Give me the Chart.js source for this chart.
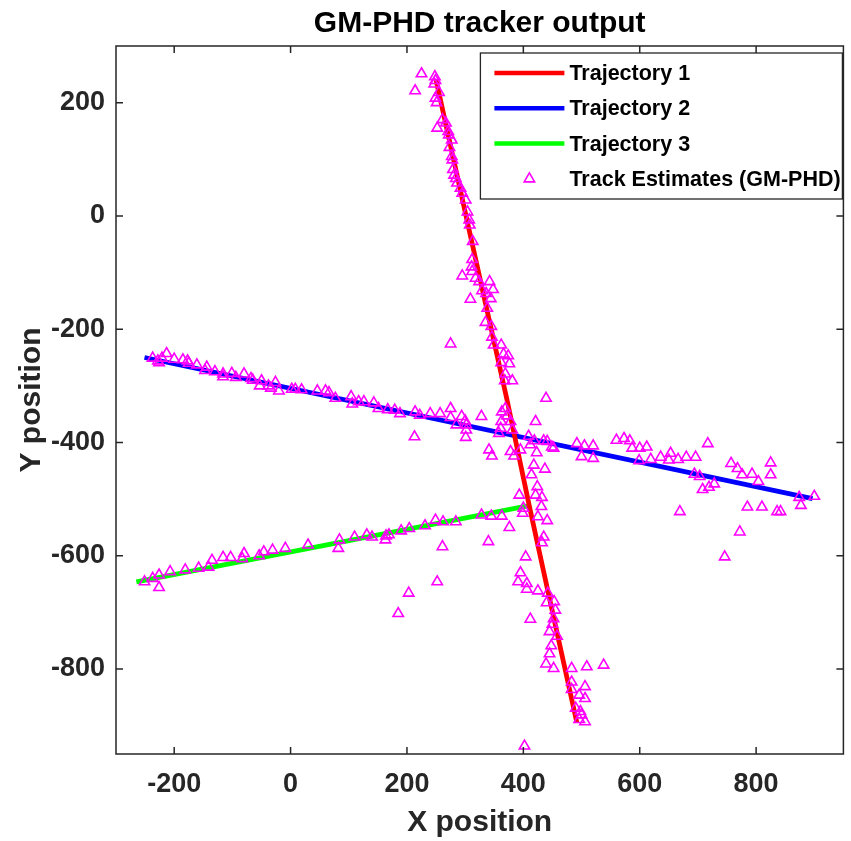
<!DOCTYPE html>
<html>
<head>
<meta charset="utf-8">
<script src="https://cdn.jsdelivr.net/npm/chart.js@4.4.1/dist/chart.umd.min.js"></script>
<style>
  body { margin: 0; background: #fff; }
</style>
</head>
<body>
<canvas id="phdChart" width="851" height="841"></canvas>
<script>
// axis ticks
const xTicks = [-200, 0, 200, 400, 600, 800];
const yTicks = [-800, -600, -400, -200, 0, 200];

// true trajectories
const traj1X = [250, 308, 372, 410, 443, 492];
const traj1Y = [240, -30, -325, -511, -666, -895];
const traj2X = [-251, 897];
const traj2Y = [-250, -499];
const traj3X = [-265, 412];
const traj3Y = [-646, -511];

// GM-PHD track estimates
const estX = [
  // trajectory 1, upper part
  225, 214, 248, 249, 247, 255, 249, 251, 252, 261, 267, 271, 272, 277, 273, 277, 278, 279, 281, 284,
  286, 292, 295, 301, 304, 307, 308, 313,
  312, 311, 312, 295, 318, 324, 342, 329, 348, 336, 344, 309, 338, 335, 345, 346, 349, 275, 362, 366,
  374, 362, 376, 369, 368, 381, 439, 369,
  // crossing area
  363, 372, 362, 378, 421, 361, 358, 381, 409, 419, 435, 412, 441, 449, 452, 341, 346, 378, 384, 395,
  423, 418, 437, 414, 424, 421, 432, 393, 431, 400, 399, 425, 441, 376, 340, 435, 432, 404,
  328, 345, 363, 284,
  // trajectory 1, lower part
  395, 391, 406, 406, 425, 442, 440, 453, 455, 412, 452, 450, 445, 458, 448, 445, 439, 452, 483, 509,
  538, 483, 506, 483, 496, 506, 490, 498, 500, 496, 506, 402,
  261, 252, 203, 185,
  // trajectory 2
  -237, -228, -221, -213, -226, -200, -185, -177, -175, -161, -144, -147, -130, -116, -116, -101, -94, -80, -68, -65,
  -50, -53, -38, -34, -26, -20, 2, 8, 19, 46, 60, 66, 77, 104, 106, 117, 126, 143, 151, 167,
  179, 188, 214, 222, 240, 257, 275, 275, 294, 300, 285, 302, 302, 301, 213, 328,
  492, 505, 520, 500, 520, 560, 573, 583, 587, 600, 612, 599, 619, 636, 653, 650, 666, 680, 696, 717,
  694, 703, 708, 719, 728, 669, 757, 768, 776, 793, 804, 825, 825, 785, 810, 836, 842, 772, 874, 877,
  900, 746,
  // trajectory 3
  -251, -237, -226, -226, -207, -181, -158, -141, -135, -116, -103, -83, -80, -54, -46, -31, -9, 30, 82, 84,
  110, 131, 140, 163, 164, 169, 190, 204, 231, 249, 262
];
const estY = [
  251, 221, 246, 239, 233, 218, 208, 200, 155, 170, 164, 149, 143, 134, 121, 105, 99, 82, 72, 66,
  58, 49, 40, 28, 7, -7, -16, -45,
  -77, -90, -98, -106, -110, -116, -116, -132, -130, -137, -146, -147, -163, -188, -195, -214, -228, -226, -228, -244,
  -247, -259, -261, -279, -291, -291, -322, -340,
  -346, -353, -363, -363, -363, -375, -384, -378, -389, -397, -397, -404, -398, -408, -410, -413, -424, -416, -424, -413,
  -418, -440, -447, -457, -478, -493, -497, -493, -513, -516, -525, -531, -538, -550, -575, -567, -577, -602,
  -528, -530, -530, -540,
  -630, -646, -649, -659, -662, -666, -683, -681, -696, -712, -711, -721, -734, -742, -759, -773, -791, -799, -799, -796,
  -793, -823, -831, -836, -846, -852, -869, -875, -881, -889, -893, -936,
  -584, -646, -666, -702,
  -251, -256, -251, -243, -259, -253, -254, -256, -260, -263, -267, -273, -275, -279, -284, -278, -285, -279, -287, -290,
  -291, -300, -300, -304, -294, -309, -306, -306, -307, -309, -309, -312, -322, -319, -332, -328, -328, -330, -340, -342,
  -343, -349, -346, -352, -349, -349, -340, -356, -354, -362, -369, -369, -378, -391, -390, -354,
  -402, -406, -406, -425, -428, -396, -393, -397, -410, -410, -408, -432, -430, -426, -419, -431, -430, -426, -426, -402,
  -456, -460, -483, -479, -473, -522, -437, -446, -457, -456, -469, -436, -457, -514, -514, -522, -522, -558, -497, -511,
  -495, -602,
  -646, -640, -634, -656, -628, -625, -622, -620, -608, -603, -603, -605, -596, -600, -593, -590, -587, -581, -587, -572,
  -567, -563, -567, -572, -565, -563, -556, -552, -547, -537, -540
];

const toPoints = (xs, ys) => xs.map((x, i) => ({ x: x, y: ys[i] }));

const FONT = 'Liberation Sans, Arial, Helvetica, sans-serif';
const AXIS_COLOR = '#262626';
Chart.defaults.font.family = FONT;

// box, inward tick marks on all four sides
const axesFrame = {
  id: 'axesFrame',
  afterDatasetsDraw(chart) {
    const { ctx, chartArea: a, scales } = chart;
    const len = 7;
    ctx.save();
    ctx.strokeStyle = AXIS_COLOR;
    ctx.lineWidth = 1.5;
    ctx.beginPath();
    xTicks.forEach(v => {
      const px = scales.x.getPixelForValue(v);
      ctx.moveTo(px, a.bottom); ctx.lineTo(px, a.bottom - len);
      ctx.moveTo(px, a.top); ctx.lineTo(px, a.top + len);
    });
    yTicks.forEach(v => {
      const py = scales.y.getPixelForValue(v);
      ctx.moveTo(a.left, py); ctx.lineTo(a.left + len, py);
      ctx.moveTo(a.right, py); ctx.lineTo(a.right - len, py);
    });
    ctx.stroke();
    ctx.strokeRect(a.left, a.top, a.right - a.left, a.bottom - a.top);
    ctx.restore();
  }
};

// MATLAB style legend inside the axes, top right
const boxLegend = {
  id: 'boxLegend',
  afterDraw(chart) {
    const { ctx, chartArea: a } = chart;
    const w = 362, h = 146;
    const x0 = a.right - 1 - w, y0 = a.top + 7;
    ctx.save();
    ctx.fillStyle = '#fff';
    ctx.fillRect(x0, y0, w, h);
    ctx.strokeStyle = AXIS_COLOR;
    ctx.lineWidth = 1.3;
    ctx.strokeRect(x0, y0, w, h);
    ctx.font = 'bold 21.5px ' + FONT;
    ctx.textBaseline = 'middle';
    ctx.textAlign = 'left';
    chart.data.datasets.forEach(ds => {
      const cy = y0 + 20 + ds.legendRow * 35.3;
      if (ds.showLine) {
        ctx.strokeStyle = ds.borderColor;
        ctx.lineWidth = 4.5;
        ctx.beginPath();
        ctx.moveTo(x0 + 14, cy);
        ctx.lineTo(x0 + 84, cy);
        ctx.stroke();
      } else {
        ctx.fillStyle = 'rgba(0,0,0,0)';
        ctx.strokeStyle = ds.pointBorderColor;
        ctx.lineWidth = ds.pointBorderWidth;
        Chart.helpers.drawPoint(ctx, { pointStyle: 'triangle', radius: ds.pointRadius, borderWidth: ds.pointBorderWidth, rotation: 0 }, x0 + 49, cy);
      }
      ctx.fillStyle = '#000';
      ctx.fillText(ds.label, x0 + 89, cy + 1);
    });
    ctx.restore();
  }
};

new Chart(document.getElementById('phdChart'), {
  type: 'scatter',
  data: {
    datasets: [
      {
        label: 'Track Estimates (GM-PHD)',
        data: toPoints(estX, estY),
        pointStyle: 'triangle',
        pointRadius: 6,
        pointHoverRadius: 6,
        pointBackgroundColor: 'rgba(0,0,0,0)',
        pointBorderColor: '#ff00ff',
        pointBorderWidth: 1.6,
        order: 0,
        legendRow: 3
      },
      {
        label: 'Trajectory 1',
        data: toPoints(traj1X, traj1Y),
        showLine: true,
        borderColor: '#ff0000',
        borderWidth: 4.8,
        pointRadius: 0,
        order: 1,
        legendRow: 0
      },
      {
        label: 'Trajectory 2',
        data: toPoints(traj2X, traj2Y),
        showLine: true,
        borderColor: '#0000ff',
        borderWidth: 4.8,
        pointRadius: 0,
        order: 2,
        legendRow: 1
      },
      {
        label: 'Trajectory 3',
        data: toPoints(traj3X, traj3Y),
        showLine: true,
        borderColor: '#00ff00',
        borderWidth: 4.8,
        pointRadius: 0,
        order: 3,
        legendRow: 2
      }
    ]
  },
  options: {
    responsive: false,
    animation: false,
    layout: { padding: { left: 0, right: 5, top: 0, bottom: 0 } },
    plugins: {
      legend: { display: false },
      tooltip: { enabled: false },
      title: {
        display: true,
        fullSize: false,
        text: 'GM-PHD tracker output',
        color: '#000',
        font: { size: 30, weight: 'bold' },
        padding: { top: 6, bottom: 4 }
      }
    },
    scales: {
      x: {
        type: 'linear',
        min: -300,
        max: 950,
        afterBuildTicks: s => { s.ticks = xTicks.map(v => ({ value: v })); },
        afterFit: s => { s.height = 87; },
        grid: { display: false, drawTicks: false },
        border: { display: false },
        ticks: {
          color: AXIS_COLOR,
          font: { size: 27, weight: 'bold' },
          padding: 14,
          maxRotation: 0,
          autoSkip: false,
          callback: v => String(v)
        },
        title: {
          display: true,
          text: 'X position',
          color: AXIS_COLOR,
          font: { size: 30, weight: 'bold' },
          padding: { top: 0, bottom: 0 }
        }
      },
      y: {
        type: 'linear',
        min: -950,
        max: 300,
        afterBuildTicks: s => { s.ticks = yTicks.map(v => ({ value: v })); },
        afterFit: s => { s.width = 116; },
        grid: { display: false, drawTicks: false },
        border: { display: false },
        ticks: {
          color: AXIS_COLOR,
          font: { size: 27, weight: 'bold' },
          padding: 11,
          autoSkip: false,
          callback: v => String(v)
        },
        title: {
          display: true,
          text: 'Y position',
          color: AXIS_COLOR,
          font: { size: 30, weight: 'bold' },
          padding: { top: 14, bottom: 0 }
        }
      }
    }
  },
  plugins: [axesFrame, boxLegend]
});
</script>
</body>
</html>
